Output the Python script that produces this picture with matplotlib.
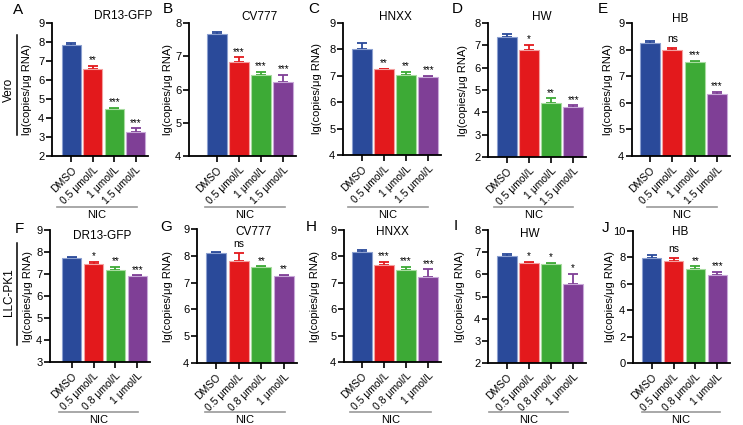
import numpy as np
import matplotlib.pyplot as plt
from matplotlib.lines import Line2D

plt.rcParams['font.family'] = ['Liberation Sans', 'DejaVu Sans']

# ---- data ----
letters = ["A", "B", "C", "D", "E", "F", "G", "H", "I", "J"]
viruses = ["DR13-GFP", "CV777", "HNXX", "HW", "HB",
           "DR13-GFP", "CV777", "HNXX", "HW", "HB"]
labels_vero = ["DMSO", "0.5 μmol/L", "1 μmol/L", "1.5 μmol/L"]
labels_llc = ["DMSO", "0.5 μmol/L", "0.8 μmol/L", "1 μmol/L"]

means = [
    [7.86, 6.56, 4.45, 3.24],
    [7.66, 6.84, 6.44, 6.22],
    [8.03, 7.24, 7.03, 6.96],
    [7.38, 6.78, 4.44, 4.22],
    [8.24, 8.00, 7.52, 6.34],
    [7.73, 7.46, 7.19, 6.89],
    [8.10, 7.79, 7.58, 7.25],
    [8.18, 7.67, 7.48, 7.23],
    [6.84, 6.49, 6.45, 5.57],
    [7.98, 7.74, 7.13, 6.65],
]
errs = [
    [0.10, 0.17, 0.09, 0.22],
    [0.07, 0.13, 0.10, 0.22],
    [0.21, 0.03, 0.11, 0.04],
    [0.14, 0.25, 0.19, 0.09],
    [0.10, 0.06, 0.07, 0.07],
    [0.04, 0.10, 0.15, 0.05],
    [0.06, 0.30, 0.03, 0.04],
    [0.06, 0.13, 0.13, 0.28],
    [0.07, 0.08, 0.07, 0.45],
    [0.22, 0.18, 0.20, 0.26],
]
stars = [
    ["**", "***", "***"],
    ["***", "***", "***"],
    ["**", "**", "***"],
    ["*", "**", "***"],
    ["ns", "***", "***"],
    ["*", "**", "***"],
    ["ns", "**", "**"],
    ["***", "***", "***"],
    ["*", "*", "*"],
    ["ns", "**", "***"],
]
ylims = [(2, 9), (4, 8), (4, 9), (2, 8), (4, 9),
         (3, 9), (4, 9), (4, 9), (2, 8), (0, 10)]
ysteps = [1, 1, 1, 1, 1, 1, 1, 1, 1, 2]

colors = ["#2A4A9A", "#E3191C", "#3DAA36", "#7F3F96"]
edge_colors = ["#8CA0D0", "#F4A0A0", "#A8DCA0", "#C8A8D8"]

# ---- layout (pixels): axis x, first bar left, last bar right, top, bottom ----
W, H = 743, 425
boxes = [
    (52, 62, 145, 23, 156),
    (189, 207, 293, 23, 156),
    (343, 352, 438, 23, 155),
    (488, 497, 583, 23, 157),
    (632, 640, 727, 23, 156),
    (50, 62, 147, 230, 362),
    (197, 206, 294, 229, 363),
    (344, 352, 438, 230, 362),
    (488, 497, 583, 230, 363),
    (633, 642, 727, 231, 363),
]
letter_pos = [(13, 10), (163, 9), (308, 9), (452, 9), (598, 9),
              (15, 229), (160, 227), (306, 227), (454, 226), (602, 228)]
title_pos = [(123, 16), (260, 17), (395, 17), (542, 17), (680, 19),
             (102, 236), (253, 232), (392, 232), (530, 234), (680, 232)]
ylabel_x = [32, 173, 322, 468, 613, 33, 173, 320, 465, 615]
nic_lines = [(57, 137), (205, 285), (348, 428), (494, 573), (647, 717),
             (59, 138), (205, 285), (350, 431), (489, 568), (642, 720)]

bw = 0.88
fig = plt.figure(figsize=(W / 100, H / 100), dpi=100)


def fx(px):
    return px / W


def fy(py):
    return 1 - py / H


for i in range(10):
    axl, b0, b3, top, bot = boxes[i]
    pitch = (b3 - b0) / (3 + bw)
    xmin = -bw / 2 - (b0 - axl) / pitch
    xmax = 3 + bw / 2 + 3 / pitch
    wpx = (xmax - xmin) * pitch
    ax = fig.add_axes([fx(axl), fy(bot), wpx / W, (bot - top) / H])
    x = np.arange(4)
    m = means[i]
    e = errs[i]
    ax.bar(x, m, width=bw, color=colors, edgecolor=edge_colors, linewidth=0.8,
           zorder=2)
    for k in range(4):
        ax.errorbar(x[k], m[k], yerr=[[0], [e[k]]], fmt="none",
                    ecolor=colors[k], elinewidth=1.3, capsize=3.4,
                    capthick=1.3, zorder=1)
    lo, hi = ylims[i]
    span = hi - lo
    for k in range(1, 4):
        s = stars[i][k - 1]
        if s == "ns":
            ax.text(x[k], m[k] + e[k] + 0.03 * span, s, ha="center",
                    va="bottom", fontsize=7.5)
        else:
            ax.text(x[k], m[k] + e[k] + 0.005 * span, s, ha="center",
                    va="bottom", fontsize=7)
    ax.set_xlim(xmin, xmax)
    ax.set_ylim(lo, hi)
    ax.set_yticks(np.arange(lo, hi + 0.01, ysteps[i]))
    ax.set_xticks(x)
    ax.set_xticklabels(labels_vero if i < 5 else labels_llc, rotation=45,
                       ha="right", rotation_mode="anchor", fontsize=7.5)
    ax.tick_params(axis="both", length=4, width=1.2, labelsize=8, pad=1.5)
    ax.tick_params(axis="x", labelsize=7.5, pad=2.5)
    for sp in ["top", "right"]:
        ax.spines[sp].set_visible(False)
    for sp in ["left", "bottom"]:
        ax.spines[sp].set_linewidth(1.3)
    ax.set_ylabel("lg(copies/μg RNA)", fontsize=8)
    ax.yaxis.set_label_coords((ylabel_x[i] - axl) / wpx, 0.5)

    lx, lyy = letter_pos[i]
    fig.text(fx(lx), fy(lyy), letters[i], fontsize=11, ha="left",
             va="center")
    tx, ty = title_pos[i]
    fig.text(fx(tx), fy(ty), viruses[i], fontsize=8.5, ha="center",
             va="center")

    ly = 207 if i < 5 else 412
    x0, x1 = nic_lines[i]
    fig.add_artist(Line2D([fx(x0), fx(x1)], [fy(ly), fy(ly)], color="#999999",
                          linewidth=1.2))
    fig.text(fx((x0 + x1) / 2), fy(ly + 8), "NIC", fontsize=8, ha="center",
             va="center")

# row labels
fig.text(fx(9), fy(90), "Vero", rotation=90, fontsize=8.5, ha="center",
         va="center")
fig.add_artist(Line2D([fx(17), fx(17)], [fy(35), fy(135)], color="black",
                      linewidth=1.1))
fig.text(fx(9), fy(292), "LLC-PK1", rotation=90, fontsize=8.5, ha="center",
         va="center")
fig.add_artist(Line2D([fx(17), fx(17)], [fy(243), fy(345)], color="black",
                      linewidth=1.1))

fig.savefig("out.png", dpi=100)
